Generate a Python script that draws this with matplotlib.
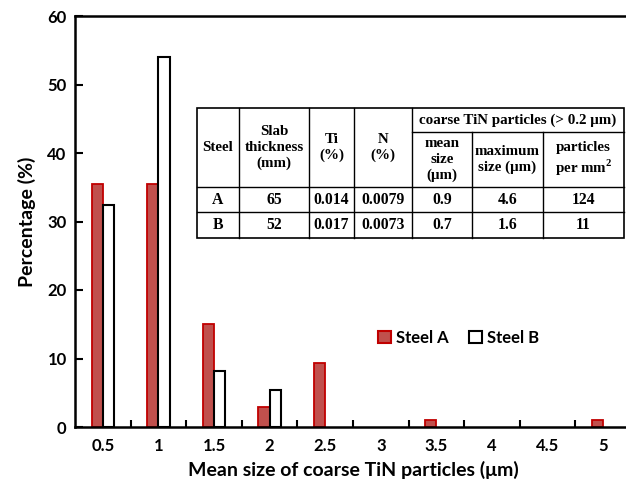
import matplotlib.pyplot as plt
import numpy as np
from matplotlib.patches import Patch

sizes = ['0.5', '1', '1.5', '2', '2.5', '3', '3.5', '4', '4.5', '5']
steel_a = [35.5, 35.5, 15.0, 2.9, 9.3, 0, 1.0, 0, 0, 1.0]
steel_b = [32.4, 54.0, 8.2, 5.4, 0, 0, 0, 0, 0, 0]

tab_head = ['Steel', 'Slab\nthickness\n(mm)', 'Ti\n(%)', 'N\n(%)',
            'mean\nsize\n(μm)', 'maximum\nsize (μm)', 'particles\nper mm$^\\mathbf{2}$']
tab_group = 'coarse TiN particles (> 0.2 μm)'
tab_rows = [['A', '65', '0.014', '0.0079', '0.9', '4.6', '124'],
            ['B', '52', '0.017', '0.0073', '0.7', '1.6', '11']]

plt.rcParams['font.family'] = ['Lato', 'DejaVu Sans']
plt.rcParams['mathtext.fontset'] = 'custom'
plt.rcParams['mathtext.bf'] = 'Liberation Serif:bold'

fig = plt.figure(figsize=(6.26, 4.8), dpi=100)
ax = fig.add_axes([75/626, 53/480, 556/626, 411/480])

x = np.arange(len(sizes))
a = np.array(steel_a)
b = np.array(steel_b)
w = 0.2
# empty classes are not drawn at all
ax.bar(x[a > 0] - w/2, a[a > 0], w, color='#C0504D', edgecolor='#C00000', linewidth=1.3)
ax.bar(x[b > 0] + w/2, b[b > 0], w, color='white', edgecolor='black', linewidth=1.5)

ax.set_xlim(-0.5, len(sizes) - 0.5)
ax.set_ylim(0, 60)
ax.set_yticks(range(0, 61, 10))
ax.set_xticks(x)
ax.set_xticklabels(sizes)
ax.set_xticks(np.arange(0.5, len(sizes) - 0.5, 1), minor=True)
ax.tick_params(axis='x', which='major', length=0, pad=8)
ax.tick_params(axis='x', which='minor', direction='in', length=5, width=1.5)
ax.tick_params(axis='y', direction='in', length=6, width=1.5, pad=6)
for lab in ax.get_xticklabels() + ax.get_yticklabels():
    lab.set_fontsize(12)
    lab.set_fontweight('bold')
ax.spines['right'].set_visible(False)
for s in ['left', 'top', 'bottom']:
    ax.spines[s].set_linewidth(1.8)

ax.set_xlabel('Mean size of coarse TiN particles (μm)', fontsize=14, fontweight='bold', labelpad=5)
ax.set_ylabel('Percentage (%)', fontsize=14, fontweight='bold', labelpad=8)

handles = [Patch(facecolor='#C0504D', edgecolor='#C00000', linewidth=1.5),
           Patch(facecolor='white', edgecolor='black', linewidth=1.5)]
ax.legend(handles, ['Steel A', 'Steel B'], ncol=2, frameon=False,
          loc='center', bbox_to_anchor=(0.69, 0.217), handlelength=0.8, handleheight=0.8,
          handletextpad=0.3, columnspacing=1.2, prop={'weight': 'bold', 'size': 12})

# table drawn in pixel coordinates
tx = fig.add_axes([0, 0, 1, 1])
tx.set_xlim(0, 626)
tx.set_ylim(480, 0)
tx.axis('off')
cols = [197, 239, 309, 354, 412, 472, 543, 624]
rows = [108, 132, 187, 212, 238]
tx.add_patch(plt.Rectangle((cols[0], rows[0]), cols[-1] - cols[0], rows[-1] - rows[0],
                           facecolor='white', edgecolor='black', linewidth=1.2))
for i, cx in enumerate(cols[1:-1], start=1):
    y0 = rows[1] if i > 4 else rows[0]
    tx.plot([cx, cx], [y0, rows[-1]], color='black', lw=1.0)
tx.plot([cols[4], cols[-1]], [rows[1], rows[1]], color='black', lw=1.0)
for ry in rows[2:4]:
    tx.plot([cols[0], cols[-1]], [ry, ry], color='black', lw=1.0)
tfont = dict(family='Liberation Serif', fontweight='bold', fontsize=10.8,
             ha='center', va='center', linespacing=1.3)
tx.text((cols[4] + cols[-1]) / 2, (rows[0] + rows[1]) / 2, tab_group, **tfont)
for i, h in enumerate(tab_head):
    yt = rows[0] if i < 4 else rows[1]
    tx.text((cols[i] + cols[i + 1]) / 2, (yt + rows[2]) / 2, h, **tfont)
for r, row in enumerate(tab_rows):
    for i, v in enumerate(row):
        tx.text((cols[i] + cols[i + 1]) / 2, (rows[2 + r] + rows[3 + r]) / 2, v,
                **dict(tfont, fontsize=11.3))

fig.savefig('out.png', dpi=100)
